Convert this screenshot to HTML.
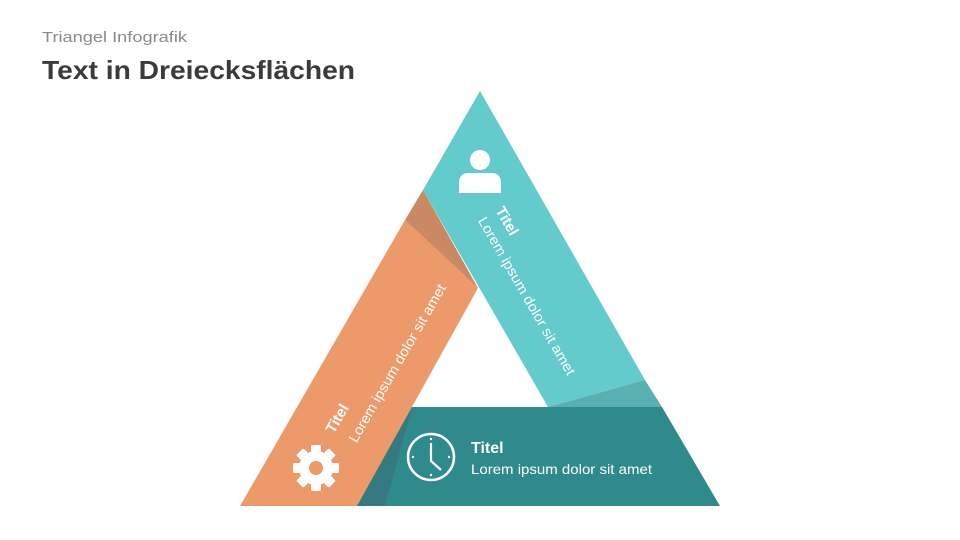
<!DOCTYPE html>
<html><head><meta charset="utf-8"><style>
html,body{margin:0;padding:0;background:#fff;}
svg{display:block;}
</style></head><body>
<svg width="960" height="540" viewBox="0 0 960 540" xmlns="http://www.w3.org/2000/svg" font-family="Liberation Sans, sans-serif">
<text x="42" y="42" font-size="15" fill="#8a8a8a" textLength="145" lengthAdjust="spacingAndGlyphs">Triangel Infografik</text>
<text x="42" y="79" font-size="26" font-weight="bold" fill="#3b3b3b" textLength="313" lengthAdjust="spacingAndGlyphs">Text in Dreiecksflächen</text>

<polygon points="240,506 405,220 478,288 357,506" fill="#EC9A69"/>
<polygon points="423,190 405,220 478,288" fill="#C98962"/>
<polygon points="480,91 645,380 548,407 423,190" fill="#63CBCC"/>
<polygon points="548,407 645,380 662,407" fill="#5AB0B0"/>
<polygon points="412,407 662,407 720,506 357,506" fill="#2E8A8B"/>
<polygon points="412,407 385,506 357,506" fill="#357A80"/>

<circle cx="480" cy="160" r="10" fill="#fff"/>
<path d="M459,193 L459,183 Q459,173 469,173 L491,173 Q501,173 501,183 L501,193 Z" fill="#fff"/>

<g transform="translate(316,468)" fill="#fff">
<circle r="17"/>
<rect x="-5" y="-23" width="10" height="10" rx="1.5"/>
<rect x="-5" y="-23" width="10" height="10" rx="1.5" transform="rotate(45)"/>
<rect x="-5" y="-23" width="10" height="10" rx="1.5" transform="rotate(90)"/>
<rect x="-5" y="-23" width="10" height="10" rx="1.5" transform="rotate(135)"/>
<rect x="-5" y="-23" width="10" height="10" rx="1.5" transform="rotate(180)"/>
<rect x="-5" y="-23" width="10" height="10" rx="1.5" transform="rotate(225)"/>
<rect x="-5" y="-23" width="10" height="10" rx="1.5" transform="rotate(270)"/>
<rect x="-5" y="-23" width="10" height="10" rx="1.5" transform="rotate(315)"/>
<circle r="7" fill="#EC9A69"/>
</g>

<g transform="translate(431,457)">
<circle r="23" fill="none" stroke="#fff" stroke-width="2.5"/>
<polyline points="0,-14 0,4 10,13" fill="none" stroke="#fff" stroke-width="2.2"/>
<circle cx="0" cy="-18" r="1.2" fill="#fff"/>
<circle cx="0" cy="18" r="1.2" fill="#fff"/>
<circle cx="-18" cy="0" r="1.2" fill="#fff"/>
<circle cx="18" cy="0" r="1.2" fill="#fff"/>
</g>

<text transform="translate(499,208) rotate(60)" font-size="15" font-weight="bold" fill="#fff" dominant-baseline="central">Titel</text>
<text transform="translate(482,218) rotate(60)" font-size="14" fill="#fff" dominant-baseline="central" textLength="180" lengthAdjust="spacingAndGlyphs">Lorem ipsum dolor sit amet</text>

<text transform="translate(330,432) rotate(-60)" font-size="15" font-weight="bold" fill="#fff" dominant-baseline="central">Titel</text>
<text transform="translate(352,441) rotate(-60)" font-size="14" fill="#fff" dominant-baseline="central" textLength="180" lengthAdjust="spacingAndGlyphs">Lorem ipsum dolor sit amet</text>

<text x="471" y="453" font-size="16" font-weight="bold" fill="#fff">Titel</text>
<text x="471" y="474" font-size="14" fill="#fff" textLength="181" lengthAdjust="spacingAndGlyphs">Lorem ipsum dolor sit amet</text>
</svg>
</body></html>
